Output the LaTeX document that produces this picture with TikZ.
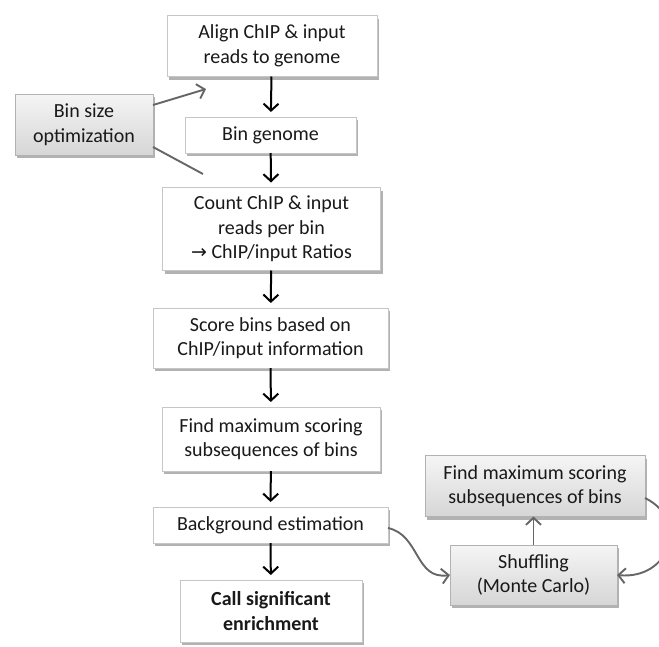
\documentclass[tikz,border=0pt]{standalone}
\usepackage{fontspec}
\setmainfont{Carlito}
\newfontfamily\dejavu{DejaVu Sans}
\usetikzlibrary{arrows.meta,shadows,calc}
\begin{document}
\begin{tikzpicture}[x=1pt,y=-1pt,
  box/.style={draw=gray!45, line width=0.6pt, fill=white, align=center,
    inner sep=0pt, outer sep=0pt, text=black!90,
    font=\fontsize{20}{24.5}\selectfont,
    drop shadow={shadow xshift=2pt, shadow yshift=-3pt, fill=black, opacity=0.3}},
  graybox/.style={box, top color=gray!8, bottom color=gray!32, draw=gray!60},
  flow/.style={-{Straight Barb[length=7pt,width=15pt,line width=2pt]}, line width=2pt, black, shorten >=5pt},
  garrow/.style={-{Straight Barb[length=7pt,width=15pt]}, line width=1.9pt, black!60},
  gline/.style={line width=1.9pt, black!60}
]
\useasboundingbox (0,0) rectangle (659,646);

\node[box, minimum width=210pt, minimum height=61pt] (a1) at (272,46) {Align ChIP \& input\\reads to genome};
\node[box, minimum width=171pt, minimum height=36pt] (a2) at (270.5,135) {Bin genome};
\node[box, minimum width=218pt, minimum height=83pt] (a3) at (271.5,229) {Count ChIP \& input\\reads per bin\\{\dejavu\fontsize{19}{20}\selectfont →} ChIP/input Ratios};
\node[box, minimum width=235pt, minimum height=60pt] (a4) at (270.5,338) {Score bins based on\\ChIP/input information};
\node[box, minimum width=218pt, minimum height=64pt] (a5) at (271,439) {Find maximum scoring\\subsequences of bins};
\node[box, minimum width=235pt, minimum height=36pt] (a6) at (270.5,525) {Background estimation};
\node[box, minimum width=182pt, minimum height=62pt, font=\fontsize{20}{24.5}\selectfont\bfseries] (a7) at (271,611) {Call significant\\enrichment};

\node[graybox, minimum width=138pt, minimum height=61pt] (bs) at (84,124.5) {Bin size\\optimization};
\node[graybox, minimum width=220pt, minimum height=61pt] (f2) at (535,486) {Find maximum scoring\\subsequences of bins};
\node[graybox, minimum width=167pt, minimum height=60pt] (sh) at (533.5,575) {Shuffling\\(Monte Carlo)};

\draw[flow] (a1) -- (a2);
\draw[flow] (a2) -- (a3);
\draw[flow] (a3) -- (a4);
\draw[flow] (a4) -- (a5);
\draw[flow] (a5) -- (a6);
\draw[flow] (a6) -- (a7);

\coordinate (t1) at (206,89);
\coordinate (t2) at (203,174);
\draw[garrow] ([yshift=19.5pt]bs.east) -- (t1);
\draw[gline] ([yshift=-22.5pt]bs.east) -- (t2);

\draw[garrow] (sh.north) -- (sh.north |- f2.south);
\draw[garrow] ([yshift=-3pt]a6.east) .. controls (420,535) and (415,580) .. (sh.west);
\draw[garrow] ([yshift=-12pt]f2.east) .. controls (690,520) and (670,580) .. (sh.east);
\end{tikzpicture}
\end{document}
